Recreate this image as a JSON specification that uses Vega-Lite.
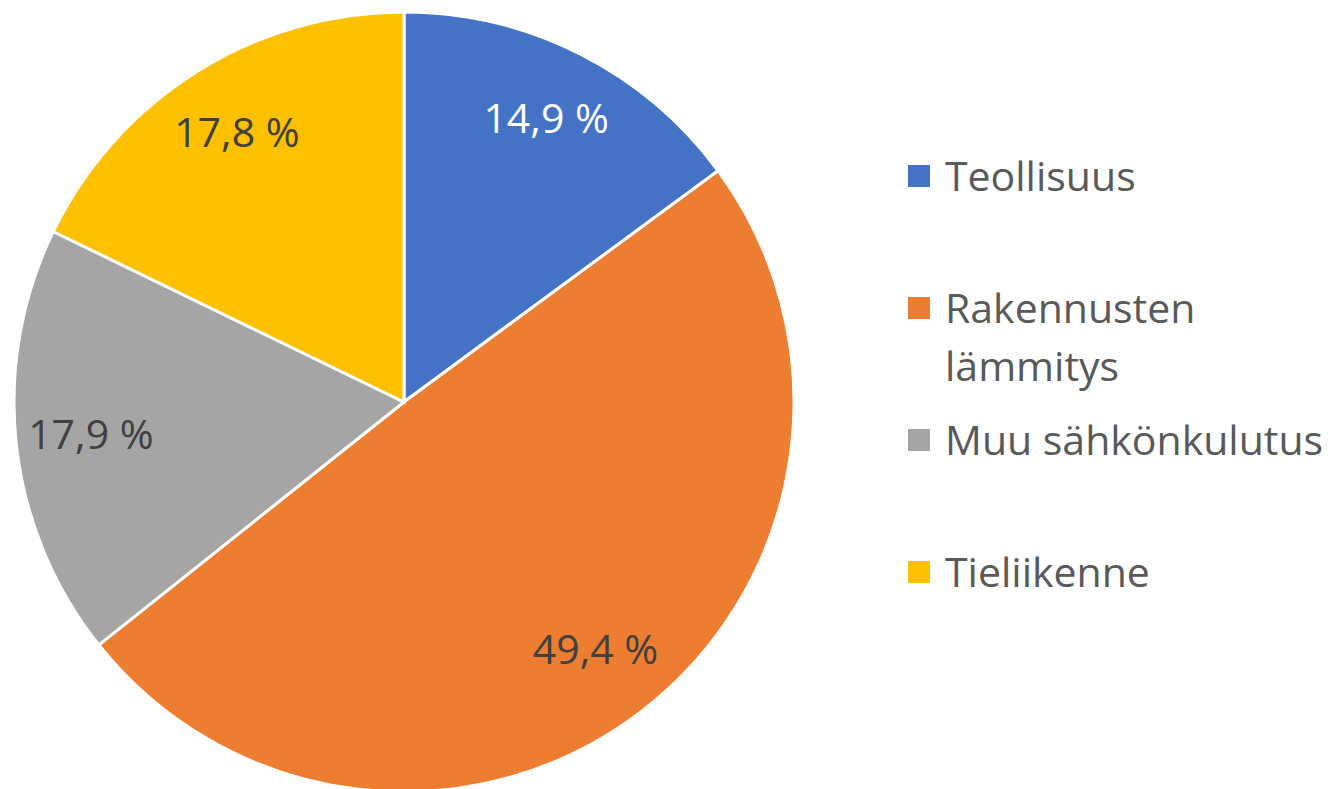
{
  "$schema": "https://vega.github.io/schema/vega-lite/v6.json",
  "padding": 0,
  "spacing": 0,
  "background": "white",
  "config": {"view": {"stroke": null}, "font": "Open Sans"},
  "data": {"values": [
    {"cat": "Teollisuus", "value": 14.9, "i": 1},
    {"cat": "Rakennusten lämmitys", "value": 49.4, "i": 2},
    {"cat": "Muu sähkönkulutus", "value": 17.9, "i": 3},
    {"cat": "Tieliikenne", "value": 17.8, "i": 4}
  ]},
  "transform": [
    {"calculate": "replace(format(datum.value, '.1f'), '.', ',') + ' %'", "as": "label"},
    {"calculate": "replace(datum.cat, 'Rakennusten ', 'Rakennusten\\n')", "as": "legendText"}
  ],
  "hconcat": [
    {
      "width": 808,
      "height": 804,
      "encoding": {
        "theta": {"field": "value", "type": "quantitative", "stack": true},
        "order": {"field": "i", "type": "quantitative"}
      },
      "layer": [
        {
          "mark": {"type": "arc", "outerRadius": 390, "stroke": "white", "strokeWidth": 3},
          "encoding": {
            "color": {
              "field": "cat", "type": "nominal",
              "scale": {"domain": ["Teollisuus", "Rakennusten lämmitys", "Muu sähkönkulutus", "Tieliikenne"], "range": ["#4472C4", "#ED7D31", "#A5A5A5", "#FFC000"]},
              "legend": null
            }
          }
        },
        {
          "mark": {"type": "text", "radius": 315, "fontSize": 41, "font": "Open Sans", "align": "center", "baseline": "middle"},
          "encoding": {
            "text": {"field": "label", "type": "nominal"},
            "color": {"condition": {"test": "datum.cat === 'Teollisuus'", "value": "#ffffff"}, "value": "#404040"}
          }
        }
      ]
    },
    {
      "width": 222,
      "height": 789,
      "encoding": {
        "y": {
          "field": "cat", "type": "nominal",
          "sort": ["Teollisuus", "Rakennusten lämmitys", "Muu sähkönkulutus", "Tieliikenne"],
          "scale": {"type": "point", "padding": 0, "range": [176, 572]},
          "axis": null
        }
      },
      "layer": [
        {
          "mark": {"type": "square", "size": 484, "filled": true, "opacity": 1},
          "encoding": {
            "color": {
              "field": "cat", "type": "nominal",
              "scale": {"domain": ["Teollisuus", "Rakennusten lämmitys", "Muu sähkönkulutus", "Tieliikenne"], "range": ["#4472C4", "#ED7D31", "#A5A5A5", "#FFC000"]},
              "legend": null
            }
          }
        },
        {
          "mark": {"type": "text", "align": "left", "baseline": "alphabetic", "dx": 26, "dy": 15, "fontSize": 41, "font": "Open Sans", "lineBreak": "\n", "lineHeight": 58, "color": "#595959"},
          "encoding": {"text": {"field": "legendText", "type": "nominal"}}
        }
      ]
    }
  ]
}
